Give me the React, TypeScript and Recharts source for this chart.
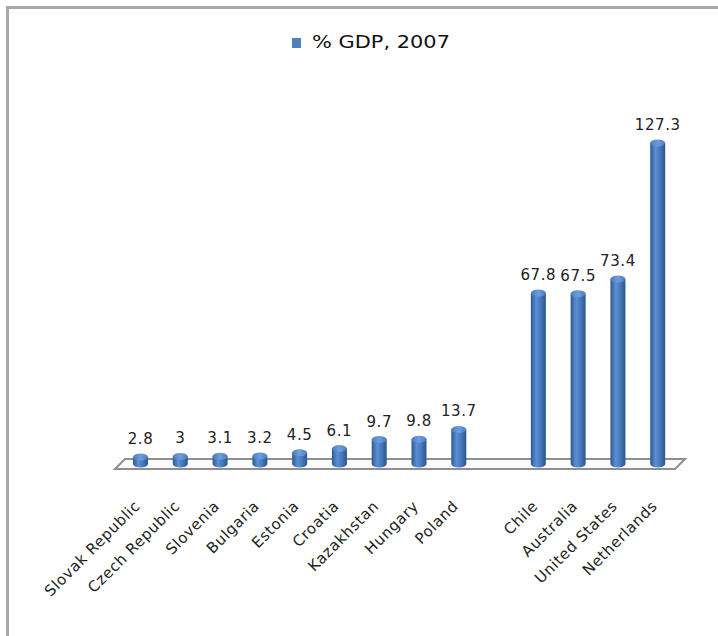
import React from "react"
import * as RC from "recharts"

const { BarChart, Bar, XAxis, YAxis, LabelList, Legend } = RC

const countries = [
  "Slovak Republic",
  "Czech Republic",
  "Slovenia",
  "Bulgaria",
  "Estonia",
  "Croatia",
  "Kazakhstan",
  "Hungary",
  "Poland",
  "",
  "Chile",
  "Australia",
  "United States",
  "Netherlands",
]
const gdp2007: (number | null)[] = [2.8, 3, 3.1, 3.2, 4.5, 6.1, 9.7, 9.8, 13.7, null, 67.8, 67.5, 73.4, 127.3]
const seriesName = "% GDP, 2007"

const data = countries.map((country, i) => ({ country, value: gdp2007[i] }))

const W = 718
const H = 636
const margin = { top: 111, right: 40, left: 121, bottom: 0 }
const legendH = 28
const axisHeight = 172 - legendH

// cylinder-shaped bar, like the old excel 3d column
function Cylinder(props: any) {
  const { x, y, width, height, value } = props
  if (value == null || !height || width <= 0) return null
  const rx = width / 2
  const ry = 3.5
  const bottom = y + height
  return (
    <g>
      <path
        d={`M${x},${y} L${x},${bottom} A${rx},${ry} 0 0 0 ${x + width},${bottom} L${x + width},${y} Z`}
        fill="url(#cylBody)"
      />
      <ellipse cx={x + rx} cy={y} rx={rx} ry={ry} fill="url(#cylTop)" />
    </g>
  )
}

function ValueLabel(props: any) {
  const { x, y, width, value } = props
  if (value == null) return null
  return (
    <text
      x={x + width / 2}
      y={y - 13}
      textAnchor="middle"
      fill="#222"
      fontSize={15}
      fontFamily="DejaVu Sans"
      letterSpacing={0.6}
    >
      {value}
    </text>
  )
}

function CountryTick(props: any) {
  const { x, y, payload } = props
  if (!payload?.value) return null
  const ax = x
  const ay = y + 35
  return (
    <text
      x={ax}
      y={ay}
      transform={`rotate(-45, ${ax}, ${ay})`}
      textAnchor="end"
      fill="#222"
      fontSize={15}
      fontFamily="DejaVu Sans"
      letterSpacing={0.6}
    >
      {payload.value}
    </text>
  )
}

// the grey "floor" under the bars
function Floor() {
  // eslint-disable-next-line @typescript-eslint/no-explicit-any
  const hook = (RC as any).usePlotArea
  const area = hook ? hook() : null
  const left = area ? area.x : margin.left
  const right = area ? area.x + area.width : W - margin.right
  const base = area ? area.y + area.height : H - 172
  const pts = [
    [left + 4, base - 5],
    [right + 7, base - 5],
    [right - 3, base + 5],
    [left - 6, base + 5],
  ]
  return (
    <polygon
      points={pts.map((p) => p.join(",")).join(" ")}
      fill="#fbfbfb"
      stroke="#8f8f8f"
      strokeWidth={2}
    />
  )
}

function LegendBox() {
  return (
    <svg width={180} height={legendH}>
      <rect x={4} y={10} width={9} height={10} fill="#4f81bd" />
      <text
        x={24}
        y={20}
        fontSize={18}
        fontFamily="DejaVu Sans"
        fill="#111"
        textLength={138}
        lengthAdjust="spacingAndGlyphs"
      >
        {seriesName}
      </text>
    </svg>
  )
}

export default function App() {
  return (
    <div style={{ position: "absolute", left: 0, top: 0, width: W, height: H, background: "#fff" }}>
      <BarChart width={W} height={H} data={data} margin={margin}>
        <defs>
          <linearGradient id="cylBody" x1="0" y1="0" x2="1" y2="0">
            <stop offset="0%" stopColor="#2c5891" />
            <stop offset="35%" stopColor="#5b8fd3" />
            <stop offset="60%" stopColor="#4a7ec0" />
            <stop offset="100%" stopColor="#2b568d" />
          </linearGradient>
          <linearGradient id="cylTop" x1="0" y1="0" x2="1" y2="0">
            <stop offset="0%" stopColor="#4a7cbc" />
            <stop offset="50%" stopColor="#6d9de0" />
            <stop offset="100%" stopColor="#4a7cbc" />
          </linearGradient>
        </defs>
        <Floor />
        <XAxis
          dataKey="country"
          interval={0}
          height={axisHeight}
          axisLine={false}
          tickLine={false}
          tick={<CountryTick />}
        />
        <YAxis hide domain={[0, 140]} />
        <Legend
          content={() => <LegendBox />}
          wrapperStyle={{ position: "absolute", top: 28, left: 288, width: 180, height: legendH }}
        />
        <Bar dataKey="value" name={seriesName} barSize={15} shape={<Cylinder />} isAnimationActive={false}>
          <LabelList dataKey="value" content={<ValueLabel />} />
        </Bar>
      </BarChart>
      <div
        style={{
          position: "absolute",
          left: 6,
          top: 6,
          width: W,
          height: H,
          borderLeft: "3px solid #a8a8a8",
          borderTop: "3px solid #a8a8a8",
          pointerEvents: "none",
        }}
      />
    </div>
  )
}
